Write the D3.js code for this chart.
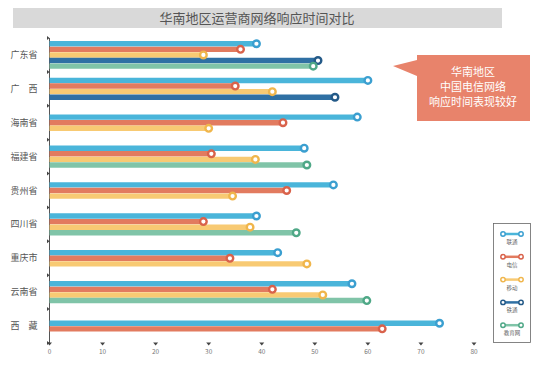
<!DOCTYPE html>
<html>
<head>
<meta charset="utf-8">
<script src="https://cdn.jsdelivr.net/npm/d3@7"></script>
<style>
  body { margin: 0; background: #fff; }
  svg { font-family: "Noto Sans CJK SC", "Noto Sans", sans-serif; }
</style>
</head>
<body>
<svg class="chart" width="556" height="366"></svg>
<script>
const categories = ["广东省", "广　西", "海南省", "福建省", "贵州省", "四川省", "重庆市", "云南省", "西　藏"];
const seriesNames = ["联通", "电信", "移动", "铁通", "教育网"];
const liantong = [39, 60, 58, 48, 53.5, 39, 43, 57, 73.5];
const dianxin = [36, 35, 44, 30.5, 44.7, 29, 34, 42, 62.7];
const yidong = [29, 42, 30, 38.8, 34.5, 37.8, 48.5, 51.5, null];
const tietong = [50.6, 53.8, null, null, null, null, null, null, null];
const jiaoyu = [49.7, null, null, 48.5, null, 46.5, null, 59.8, null];
const xTicks = [0, 10, 20, 30, 40, 50, 60, 70, 80];
const noteLines = ["华南地区", "中国电信网络", "响应时间表现较好"];

const seriesValues = [liantong, dianxin, yidong, tietong, jiaoyu];
const barColors = ["#4ab5da", "#e27b5f", "#f8ca73", "#2f70a4", "#80c4a8"];
const dotColors = ["#3b9fd0", "#d9624b", "#f0b64c", "#245a88", "#4fa887"];

const svg = d3.select(".chart");

// title bar
svg.append("rect")
    .attr("x", 13).attr("y", 8).attr("width", 489).attr("height", 20)
    .attr("fill", "#d9d9d9");
svg.append("text")
    .attr("x", 257).attr("y", 22.5)
    .attr("text-anchor", "middle")
    .attr("font-size", 13)
    .attr("fill", "#555")
    .text("华南地区运营商网络响应时间对比");

const xScale = d3.scaleLinear().domain([0, 80]).range([49.5, 474]);
const yScale = d3.scaleBand().domain(categories).range([38, 343]).padding(0);
const slot = 5.6;

// y axis line and ticks
svg.append("line")
    .attr("x1", 49.5).attr("x2", 49.5).attr("y1", 38).attr("y2", 343)
    .attr("stroke", "#555").attr("stroke-width", 1);
const yTickPos = categories.map(c => yScale(c)).concat([343]);
svg.append("g").selectAll("path")
    .data(yTickPos)
    .join("path")
    .attr("d", d => `M${47},${d - 2} L${49.5},${d} L${47},${d + 2} Z`)
    .attr("fill", "#444");

// category labels
svg.append("g").selectAll("text")
    .data(categories)
    .join("text")
    .attr("x", 24)
    .attr("y", d => yScale(d) + yScale.bandwidth() / 2 + 3)
    .attr("text-anchor", "middle")
    .attr("font-size", 9)
    .attr("fill", "#555")
    .text(d => d);

// x ticks (little triangles) and labels
const xg = svg.append("g");
xg.selectAll("path")
    .data(xTicks)
    .join("path")
    .attr("d", d => `M${xScale(d) - 2.5},${342.5} L${xScale(d) + 2.5},${342.5} L${xScale(d)},${345.5} Z`)
    .attr("fill", "#444");
xg.selectAll("text")
    .data(xTicks)
    .join("text")
    .attr("x", d => xScale(d))
    .attr("y", 354)
    .attr("text-anchor", "middle")
    .attr("font-size", 6.5)
    .attr("fill", "#777")
    .text(d => d);

// bars: only series present in a category, centered in its band
const marks = [];
categories.forEach((c, ci) => {
    const present = seriesValues
        .map((vals, si) => ({ si, v: vals[ci] }))
        .filter(d => d.v != null);
    const mid = yScale(c) + yScale.bandwidth() / 2;
    present.forEach((d, k) => {
        marks.push({ cat: c, si: d.si, v: d.v, y: mid + (k - (present.length - 1) / 2) * slot });
    });
});

const barG = svg.append("g");
barG.selectAll("line")
    .data(marks)
    .join("line")
    .attr("x1", xScale(0))
    .attr("x2", d => xScale(d.v))
    .attr("y1", d => d.y)
    .attr("y2", d => d.y)
    .attr("stroke", d => barColors[d.si])
    .attr("stroke-width", 5.4);

barG.selectAll("circle")
    .data(marks)
    .join("circle")
    .attr("cx", d => xScale(d.v))
    .attr("cy", d => d.y)
    .attr("r", 3.3)
    .attr("fill", "#fff")
    .attr("stroke", d => dotColors[d.si])
    .attr("stroke-width", 2.4);

// callout note
const note = svg.append("g");
note.append("path")
    .attr("d", "M417,55 L530,55 L530,121 L417,121 L417,76 L393,66 L417,60 Z")
    .attr("fill", "#e8836b");
note.selectAll("text")
    .data(noteLines)
    .join("text")
    .attr("x", 473)
    .attr("y", (d, i) => 76 + i * 15)
    .attr("text-anchor", "middle")
    .attr("font-size", 11)
    .attr("fill", "#fff")
    .text(d => d);

// legend
const legend = svg.append("g");
legend.append("rect")
    .attr("x", 493.5).attr("y", 223.5).attr("width", 37).attr("height", 119)
    .attr("fill", "none").attr("stroke", "#666").attr("stroke-width", 0.8);
const items = legend.selectAll("g")
    .data(seriesNames)
    .join("g")
    .attr("transform", (d, i) => `translate(512, ${234 + i * 22.8})`);
items.append("line")
    .attr("x1", -9).attr("x2", 9)
    .attr("stroke", (d, i) => barColors[i]).attr("stroke-width", 2.5);
items.append("circle").attr("cx", -9).attr("r", 2.2)
    .attr("fill", "#fff").attr("stroke", (d, i) => dotColors[i]).attr("stroke-width", 1.5);
items.append("circle").attr("cx", 9).attr("r", 2.2)
    .attr("fill", "#fff").attr("stroke", (d, i) => dotColors[i]).attr("stroke-width", 1.5);
items.append("text")
    .attr("y", 10)
    .attr("text-anchor", "middle")
    .attr("font-size", 5.5)
    .attr("fill", "#666")
    .text(d => d);
</script>
</body>
</html>
